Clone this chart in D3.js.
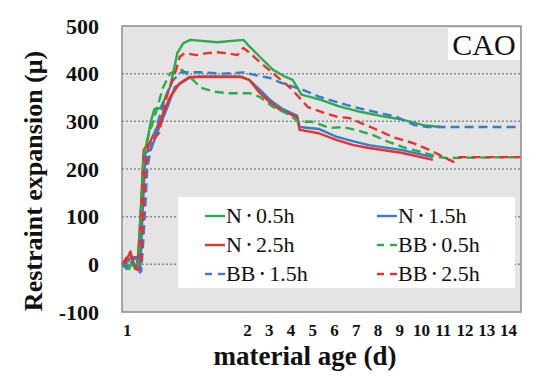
<!DOCTYPE html>
<html>
<head>
<meta charset="utf-8">
<script src="https://cdn.jsdelivr.net/npm/d3@7"></script>
<style>
  body { margin: 0; background: #fff; }
  text { font-family: "Liberation Serif", "Times New Roman", serif; }
</style>
</head>
<body>
<div id="main_view"></div>
<script>
// data: [day, expansion]
var nHalf = [[0.96,0],[0.99,3],[1.02,-10],[1.05,8],[1.08,-8],[1.10,-5],[1.12,120],[1.14,230],[1.17,258],[1.20,300],[1.23,326],[1.28,328],[1.36,372],[1.42,443],[1.47,464],[1.53,471],[1.75,466],[1.97,471],[2.05,460],[2.6,435],[3.2,408],[3.7,395],[4.1,387],[4.3,372],[4.5,356],[5.4,345],[6.2,332],[7.2,320],[8.3,310],[9.0,305],[10.1,292],[10.9,288]];
var nOne = [[0.96,0],[1.0,5],[1.04,15],[1.08,15],[1.11,-17],[1.13,100],[1.155,234],[1.20,240],[1.25,275],[1.33,324],[1.40,372],[1.52,391],[1.60,394],[1.95,394],[2.1,387],[2.6,366],[3.06,345],[3.6,327],[4.3,312],[4.42,288],[5.3,284],[6.1,268],[6.9,258],[7.6,250],[9.1,240],[10.55,225]];
var nTwo = [[0.96,0],[1.0,10],[1.03,27],[1.05,5],[1.07,-10],[1.09,0],[1.12,130],[1.14,240],[1.19,255],[1.27,297],[1.36,351],[1.44,380],[1.52,393],[1.95,393],[2.1,387],[2.6,359],[3.06,340],[3.5,325],[4.3,309],[4.42,282],[5.3,275],[6.1,261],[6.9,250],[7.6,244],[9.1,234],[10.55,219]];
var bbHalf = [[0.96,0],[1.0,-10],[1.03,5],[1.06,-5],[1.09,-12],[1.11,80],[1.14,230],[1.17,262],[1.22,300],[1.30,370],[1.36,401],[1.46,408],[1.55,387],[1.62,370],[1.73,362],[1.85,359],[1.97,359],[2.14,359],[2.6,351],[3.2,330],[3.8,317],[4.4,299],[5.0,299],[5.8,286],[6.4,288],[7.0,282],[7.8,271],[8.5,257],[9.3,244],[10.0,236],[10.8,225],[11.2,223],[14.6,225]];
var bbOne = [[0.96,0],[1.0,-5],[1.04,10],[1.08,12],[1.12,-15],[1.14,60],[1.17,200],[1.20,245],[1.26,300],[1.32,350],[1.38,385],[1.45,403],[1.6,403],[1.8,400],[2.0,403],[2.1,400],[2.6,395],[3.06,391],[3.5,382],[4.57,366],[5.36,351],[6.1,341],[6.9,330],[7.5,324],[8.9,309],[9.7,292],[10.3,288],[14.6,288]];
var bbTwo = [[0.96,0],[1.0,15],[1.03,25],[1.06,0],[1.09,-12],[1.12,0],[1.15,180],[1.18,250],[1.27,276],[1.33,351],[1.41,408],[1.44,435],[1.48,443],[1.58,439],[1.67,443],[1.75,445],[1.83,443],[1.92,439],[1.97,454],[2.14,443],[2.6,424],[3.3,397],[4.0,370],[4.8,330],[5.6,317],[6.2,309],[6.7,307],[7.3,295],[7.8,286],[8.7,267],[9.6,255],[10.4,240],[11.0,226],[11.5,215],[11.75,225],[14.6,225]];

var xTicks = [1,2,3,4,5,6,7,8,9,10,11,12,13,14];
var yTicks = [-100,0,100,200,300,400,500];

var series = [
  {pre: "N", post: "0.5h", data: nHalf, color: "#2eaa4e", dash: null},
  {pre: "N", post: "1.5h", data: nOne, color: "#3a7cc6", dash: null},
  {pre: "N", post: "2.5h", data: nTwo, color: "#e5322f", dash: null},
  {pre: "BB", post: "0.5h", data: bbHalf, color: "#2eaa4e", dash: "9,5"},
  {pre: "BB", post: "1.5h", data: bbOne, color: "#3a7cc6", dash: "9,5"},
  {pre: "BB", post: "2.5h", data: bbTwo, color: "#e5322f", dash: "9,5"}
];

var margin = {top: 26, right: 37, bottom: 69, left: 122},
    width = 558 - margin.left - margin.right,
    height = 381 - margin.top - margin.bottom;

// first day is stretched, days 2..14 are evenly spaced
var xScale = d3.scaleLinear().domain([0.96, 2, 14.6]).range([0, 125, width]);
var yScale = d3.scaleLinear().domain([-100, 500]).range([height, 0]);

var svg = d3.select("#main_view").append("svg")
    .attr("width", 558)
    .attr("height", 381)
  .append("g")
    .attr("transform", "translate(" + margin.left + "," + margin.top + ")");

svg.append("rect")
    .attr("width", width)
    .attr("height", height)
    .attr("fill", "#e4e4e4");

// grid lines
svg.selectAll(".grid")
    .data(yTicks.filter(function(d) { return d > -100 && d < 500; }))
  .enter().append("line")
    .attr("x1", 0)
    .attr("x2", width)
    .attr("y1", function(d) { return yScale(d); })
    .attr("y2", function(d) { return yScale(d); })
    .attr("stroke", "#8a8a8a")
    .attr("stroke-width", 1.5)
    .attr("stroke-dasharray", "2,2");

// legend box covers the grid, lines go on top
var legend = svg.append("g");
legend.append("rect")
    .attr("x", 56).attr("y", 171)
    .attr("width", 337).attr("height", 91)
    .attr("fill", "#ffffff");

var line = d3.line()
    .x(function(d) { return xScale(d[0]); })
    .y(function(d) { return yScale(d[1]); });

svg.selectAll(".series")
    .data(series)
  .enter().append("path")
    .attr("d", function(d) { return line(d.data); })
    .attr("fill", "none")
    .attr("stroke", function(d) { return d.color; })
    .attr("stroke-width", 2.4)
    .attr("stroke-dasharray", function(d) { return d.dash; })
    .attr("stroke-linejoin", "round");

svg.append("rect")
    .attr("width", width)
    .attr("height", height)
    .attr("fill", "none")
    .attr("stroke", "#8c8c8c")
    .attr("stroke-width", 1.5);

// legend entries
series.forEach(function(s, k) {
  var col = k % 2, row = Math.floor(k / 2);
  var lx = col === 0 ? 83 : 255;
  var ly = 190 + row * 29;
  if (s.dash) {
    legend.append("line").attr("x1", lx).attr("x2", lx + 7).attr("y1", ly).attr("y2", ly)
        .attr("stroke", s.color).attr("stroke-width", 2.4);
    legend.append("line").attr("x1", lx + 13).attr("x2", lx + 20).attr("y1", ly).attr("y2", ly)
        .attr("stroke", s.color).attr("stroke-width", 2.4);
  } else {
    legend.append("line").attr("x1", lx).attr("x2", lx + 20).attr("y1", ly).attr("y2", ly)
        .attr("stroke", s.color).attr("stroke-width", 2.4);
  }
  var t = legend.append("text")
      .attr("x", lx + 21)
      .attr("y", ly + 7)
      .attr("font-size", "22px")
      .attr("fill", "#111");
  t.append("tspan").text(s.pre);
  t.append("tspan")
      .attr("font-family", "Noto Sans CJK JP")
      .attr("font-size", "14px")
      .attr("dy", -3)
      .text("\u30fb");
  t.append("tspan").attr("dy", 3).text(s.post);
});

// CAO label
svg.append("rect")
    .attr("x", 326).attr("y", 2)
    .attr("width", 72).attr("height", 32)
    .attr("fill", "#ffffff");
svg.append("text")
    .attr("x", 362).attr("y", 29)
    .attr("text-anchor", "middle")
    .attr("font-size", "30px")
    .attr("fill", "#111")
    .text("CAO");

// Y axis
var yAxis = svg.append("g")
    .call(d3.axisLeft(yScale).tickValues(yTicks)
      .tickFormat(function(d) { return String(d); })
      .tickSize(0).tickPadding(23));
yAxis.select(".domain").remove();
yAxis.selectAll("text")
    .attr("font-family", "Liberation Serif")
    .attr("font-size", "22px")
    .attr("font-weight", "bold")
    .attr("fill", "#111");

// X axis
var xAxis = svg.append("g")
    .attr("transform", "translate(0," + height + ")")
    .call(d3.axisBottom(xScale).tickValues(xTicks).tickFormat(d3.format("d")).tickSize(0).tickPadding(12));
xAxis.select(".domain").remove();
xAxis.selectAll("text")
    .attr("font-family", "Liberation Serif")
    .attr("font-size", "17px")
    .attr("font-weight", "bold")
    .attr("fill", "#111");

svg.append("text")
    .attr("x", 183)
    .attr("y", 339)
    .attr("text-anchor", "middle")
    .attr("font-size", "27px")
    .attr("font-weight", "bold")
    .attr("fill", "#111")
    .text("material age (d)");

svg.append("text")
    .attr("transform", "translate(-80," + 155 + ") rotate(-90)")
    .attr("text-anchor", "middle")
    .attr("font-size", "26px")
    .attr("font-weight", "bold")
    .attr("fill", "#111")
    .text("Restraint expansion (\u03bc)");
</script>
</body>
</html>
